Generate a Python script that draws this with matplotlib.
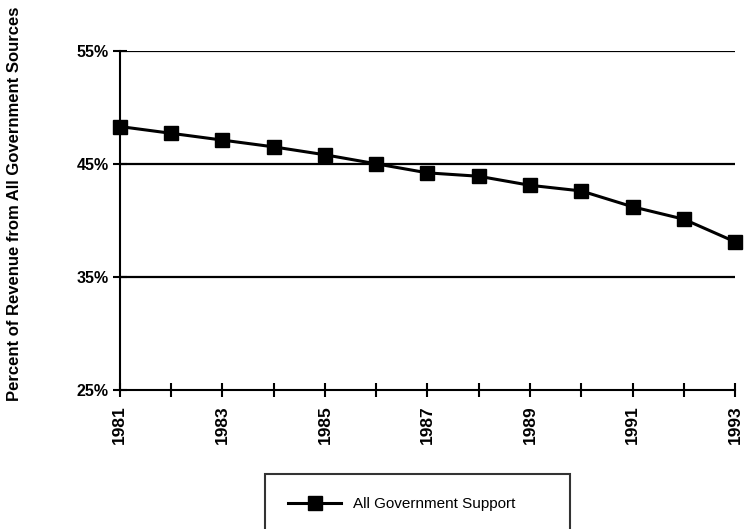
import matplotlib
matplotlib.use("Agg")
import matplotlib.pyplot as plt
from matplotlib.ticker import FixedLocator

years = [1981, 1982, 1983, 1984, 1985, 1986, 1987, 1988, 1989, 1990, 1991, 1992, 1993]
support = [48.3, 47.7, 47.1, 46.5, 45.8, 45.0, 44.2, 43.9, 43.1, 42.6, 41.2, 40.1, 38.1]
series_name = "All Government Support"
y_ticks = [25, 35, 45, 55]
y_labels = ["25%", "35%", "45%", "55%"]
x_label_years = [1981, 1983, 1985, 1987, 1989, 1991, 1993]
y_title = "Percent of Revenue from All Government Sources"

plt.rcParams['font.family'] = ['Liberation Sans', 'DejaVu Sans']

fig = plt.figure(figsize=(7.44, 5.29), dpi=100)
ax = fig.add_axes([0.161, 0.263, 0.827, 0.641])

for yv in [35, 45, 55]:
    ax.axhline(yv, color='black', lw=1.6, zorder=1)

line, = ax.plot(years, support, color='black', lw=2.2, marker='s', markersize=9.5,
                zorder=3, label=series_name, clip_on=False)

ax.set_xlim(1981, 1993)
ax.set_ylim(25, 55)
ax.set_yticks(y_ticks)
ax.set_yticklabels(y_labels, fontsize=11.5, fontweight='bold')
ax.xaxis.set_major_locator(FixedLocator(years))
ax.set_xticklabels([str(y) if y in x_label_years else "" for y in years],
                   rotation=90, fontsize=12.5, fontweight='bold')
ax.tick_params(axis='x', direction='inout', length=10, width=1.5, pad=6)
ax.tick_params(axis='y', direction='inout', length=10, width=1.5, pad=3)

for s in ['top', 'right']:
    ax.spines[s].set_visible(False)
ax.spines['left'].set_linewidth(1.5)
ax.spines['bottom'].set_linewidth(1.5)

fig.text(0.019, 0.615, y_title, rotation=90, ha='center', va='center', fontsize=12, fontweight='bold')

leg = fig.legend(handles=[line], loc='upper left', bbox_to_anchor=(0.356, 0.104, 0.41, 0.0),
                 mode='expand', frameon=True, fancybox=False, edgecolor='black',
                 fontsize=11, handlelength=3.5, borderpad=1.5, borderaxespad=0)
leg.get_frame().set_linewidth(1.5)

fig.savefig("out.png", dpi=100)
